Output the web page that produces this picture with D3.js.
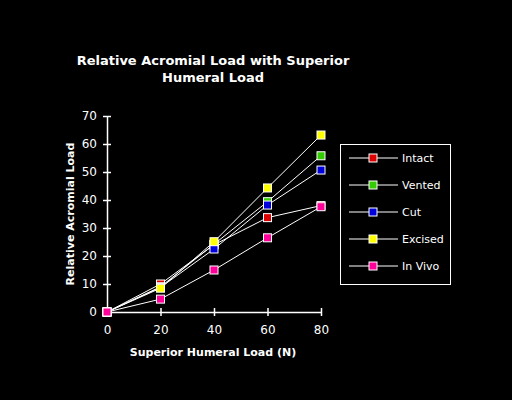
<!DOCTYPE html>
<html>
<head>
<meta charset="utf-8">
<script src="https://cdn.jsdelivr.net/npm/d3@7"></script>
<style>
  html, body { margin: 0; padding: 0; background: #000; }
  svg { display: block; }
  text { fill: #fff; font-family: "DejaVu Sans", sans-serif; }
</style>
</head>
<body>
<svg id="chart" width="512" height="400"></svg>
<script>
// Relative acromial load vs superior humeral load, five conditions

const loads = [0, 20, 40, 60, 80];
const seriesNames = ['Intact', 'Vented', 'Cut', 'Excised', 'In Vivo'];
const seriesColors = ['#dd0000', '#33cc00', '#0000dd', '#ffff00', '#ff0099'];
const intact = [0, 10.0, 24.0, 33.7, 38.0];
const vented = [0, 9.0, 24.2, 39.4, 55.8];
const cut = [0, 8.8, 22.5, 38.2, 50.7];
const excised = [0, 8.5, 25.1, 44.3, 63.2];
const inVivo = [0, 4.6, 15.0, 26.5, 37.6];
const yTicks = [0, 10, 20, 30, 40, 50, 60, 70];

const allSeries = [intact, vented, cut, excised, inVivo];

const svg = d3.select('#chart');

const x = d3.scaleLinear().domain([0, 80]).range([107, 321]);
const y = d3.scaleLinear().domain([0, 70]).range([312, 116]);

// Title
svg.append('text')
    .attr('x', 213).attr('y', 65)
    .attr('text-anchor', 'middle')
    .attr('font-size', '13px').attr('font-weight', 'bold')
    .text('Relative Acromial Load with Superior');
svg.append('text')
    .attr('x', 213).attr('y', 82)
    .attr('text-anchor', 'middle')
    .attr('font-size', '13px').attr('font-weight', 'bold')
    .text('Humeral Load');

// Axes
const xAxis = svg.append('g')
    .attr('transform', 'translate(0,312)')
    .call(d3.axisBottom(x).tickValues(loads).tickSize(3).tickSizeOuter(0).tickPadding(10));
xAxis.selectAll('.tick line').attr('y1', -4).attr('y2', 4);

const yAxis = svg.append('g')
    .attr('transform', 'translate(107,0)')
    .call(d3.axisLeft(y).tickValues(yTicks).tickSize(4).tickSizeOuter(0).tickPadding(6));
yAxis.selectAll('.tick line').attr('x1', -4).attr('x2', 4);

svg.selectAll('.domain, .tick line').attr('stroke', '#fff').attr('stroke-width', 1.5);
svg.selectAll('.tick text')
    .attr('fill', '#fff')
    .attr('font-family', '"DejaVu Sans", sans-serif')
    .attr('font-size', '12px');

// Axis titles
svg.append('text')
    .attr('x', 213).attr('y', 356)
    .attr('text-anchor', 'middle')
    .attr('font-size', '11px').attr('font-weight', 'bold')
    .text('Superior Humeral Load (N)');
svg.append('text')
    .attr('transform', 'translate(74,214) rotate(-90)')
    .attr('text-anchor', 'middle')
    .attr('font-size', '11px').attr('font-weight', 'bold')
    .text('Relative Acromial Load');

// Lines and markers
const line = d3.line().x((d, i) => x(loads[i])).y(d => y(d));

allSeries.forEach((vals, s) => {
    svg.append('path')
        .attr('d', line(vals))
        .attr('fill', 'none')
        .attr('stroke', '#fff')
        .attr('stroke-width', 1);
});
allSeries.forEach((vals, s) => {
    svg.selectAll('.m' + s)
        .data(vals)
        .enter()
        .append('rect')
        .attr('x', (d, i) => x(loads[i]) - 4)
        .attr('y', d => y(d) - 4)
        .attr('width', 8).attr('height', 8)
        .attr('fill', seriesColors[s])
        .attr('stroke', '#fff')
        .attr('stroke-width', 1);
});

// Legend
const legend = svg.append('g');
legend.append('rect')
    .attr('x', 340.5).attr('y', 144.5)
    .attr('width', 110).attr('height', 140)
    .attr('fill', 'none').attr('stroke', '#fff').attr('stroke-width', 1);

const items = legend.selectAll('.item')
    .data(seriesNames)
    .enter()
    .append('g')
    .attr('transform', (d, i) => `translate(0,${158 + i * 27})`);
items.append('line')
    .attr('x1', 349).attr('x2', 398)
    .attr('stroke', '#fff').attr('stroke-width', 1);
items.append('rect')
    .attr('x', 369).attr('y', -4)
    .attr('width', 8).attr('height', 8)
    .attr('fill', (d, i) => seriesColors[i])
    .attr('stroke', '#fff');
items.append('text')
    .attr('x', 402).attr('y', 4)
    .attr('font-size', '11px')
    .text(d => d);
</script>
</body>
</html>
